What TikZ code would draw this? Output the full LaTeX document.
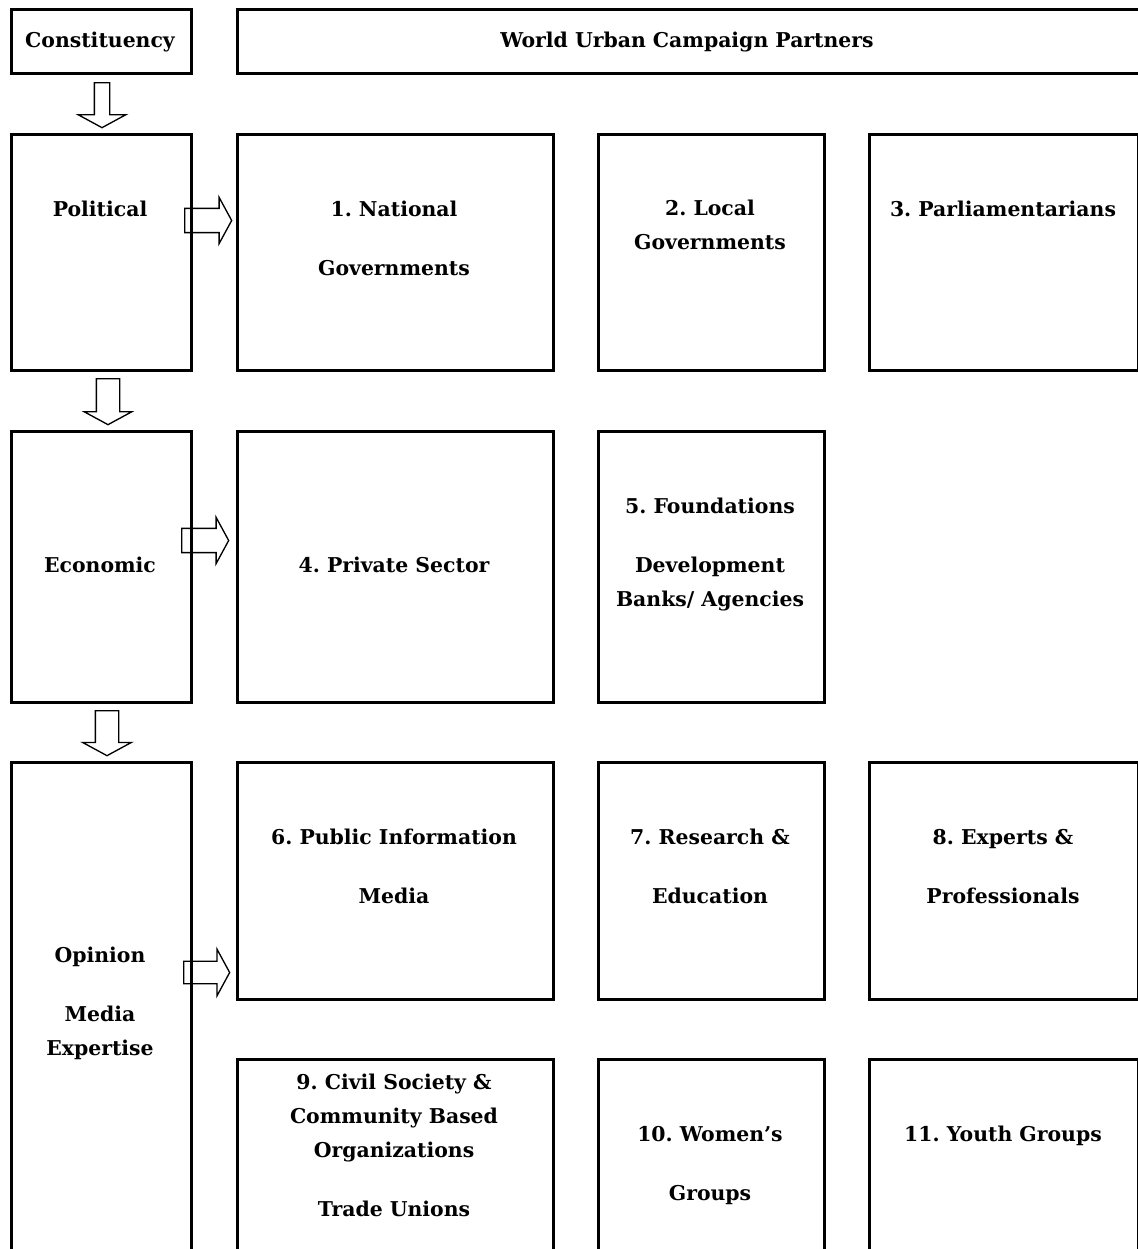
\documentclass[tikz,border=0pt]{standalone}
\usepackage{fontspec}
\setmainfont{DejaVu Serif}
\usetikzlibrary{shapes.arrows}
\frenchspacing

\tikzset{
  box/.style={draw, line width=2pt, rectangle, anchor=north west, inner sep=0pt},
  lbl/.style={anchor=base, inner sep=0.75pt, align=center, font=\bfseries\fontsize{15.3}{25.5}\selectfont},
  blockarr/.style={draw, line width=1pt, single arrow, anchor=tail, inner xsep=0pt, single arrow tip angle=123}
}

\begin{document}
\begin{tikzpicture}[x=0.75pt,y=0.75pt,yscale=-1,xscale=1]
    \clip (0,0) rectangle (1138,1249);
    
    %Shape: Rectangle
    \draw (10,8) node (cons) [box, minimum width=135pt, minimum height=48pt] {};
    %Shape: Rectangle
    \draw (236,8) node (partners) [box, minimum width=677.25pt, minimum height=48pt] {};
    %Shape: Rectangle
    \draw (10,133) node (political) [box, minimum width=135pt, minimum height=177pt] {};
    %Shape: Rectangle
    \draw (236,133) node (natgov) [box, minimum width=237pt, minimum height=177pt] {};
    %Shape: Rectangle
    \draw (597,133) node (locgov) [box, minimum width=169.5pt, minimum height=177pt] {};
    %Shape: Rectangle
    \draw (868,133) node (parl) [box, minimum width=201.75pt, minimum height=177pt] {};
    %Shape: Rectangle
    \draw (10,430) node (economic) [box, minimum width=135pt, minimum height=203.25pt] {};
    %Shape: Rectangle
    \draw (236,430) node (private) [box, minimum width=237pt, minimum height=203.25pt] {};
    %Shape: Rectangle
    \draw (597,430) node (found) [box, minimum width=169.5pt, minimum height=203.25pt] {};
    %Shape: Rectangle
    \draw (10,761) node (opinion) [box, minimum width=135pt, minimum height=450pt] {};
    %Shape: Rectangle
    \draw (236,761) node (pubinfo) [box, minimum width=237pt, minimum height=177.75pt] {};
    %Shape: Rectangle
    \draw (597,761) node (research) [box, minimum width=169.5pt, minimum height=177.75pt] {};
    %Shape: Rectangle
    \draw (868,761) node (experts) [box, minimum width=201.75pt, minimum height=177.75pt] {};
    %Shape: Rectangle
    \draw (236,1058) node (civil) [box, minimum width=237pt, minimum height=187.5pt] {};
    %Shape: Rectangle
    \draw (597,1058) node (women) [box, minimum width=169.5pt, minimum height=187.5pt] {};
    %Shape: Rectangle
    \draw (868,1058) node (youth) [box, minimum width=201.75pt, minimum height=187.5pt] {};
    
    %Down Arrow
    \draw (102,82) node (arrConsPol) [blockarr, rotate=-90, inner ysep=5.25pt, minimum height=33.75pt, minimum width=34.5pt, single arrow head extend=12pt] {};
    %Down Arrow
    \draw (108,378) node (arrPolEco) [blockarr, rotate=-90, inner ysep=8.25pt, minimum height=34.5pt, minimum width=34.5pt, single arrow head extend=9pt] {};
    %Down Arrow
    \draw (107,710) node (arrEcoOpi) [blockarr, rotate=-90, inner ysep=8.25pt, minimum height=33.75pt, minimum width=35.25pt, single arrow head extend=9.5pt] {};
    %Right Arrow
    \draw (184,220.5) node (arrPol) [blockarr, inner ysep=8.6pt, minimum height=35.25pt, minimum width=33.75pt, single arrow head extend=8.25pt] {};
    %Right Arrow
    \draw (181,540.5) node (arrEco) [blockarr, inner ysep=8.6pt, minimum height=35.25pt, minimum width=33.75pt, single arrow head extend=8.25pt] {};
    %Right Arrow
    \draw (183,972.5) node (arrOpi) [blockarr, inner ysep=7.9pt, minimum height=34.5pt, minimum width=33.75pt, single arrow head extend=9pt] {};
    
    % Text Node
    \draw (100,47) node (txtCons) [lbl] {Constituency};
    % Text Node
    \draw (687,47) node (txtPartners) [lbl] {World Urban Campaign Partners};
    % Text Node
    \draw (100,216) node (txtPolitical) [lbl] {Political};
    % Text Node
    \draw (394,275) node (txtNatgov) [lbl] {1. National\\[18.75pt]Governments};
    % Text Node
    \draw (710,249) node (txtLocgov) [lbl] {2. Local\\Governments};
    % Text Node
    \draw (1003,216) node (txtParl) [lbl] {3. Parliamentarians};
    % Text Node
    \draw (100,572) node (txtEconomic) [lbl] {Economic};
    % Text Node
    \draw (394,572) node (txtPrivate) [lbl] {4. Private Sector};
    % Text Node
    \draw (710,606) node (txtFound) [lbl] {5. Foundations\\[18.75pt]Development\\Banks/ Agencies};
    % Text Node
    \draw (100,1055) node (txtOpinion) [lbl] {Opinion\\[18.75pt]Media\\Expertise};
    % Text Node
    \draw (394,903) node (txtPubinfo) [lbl] {6. Public Information\\[18.75pt]Media};
    % Text Node
    \draw (710,903) node (txtResearch) [lbl] {7. Research \&\\[18.75pt]Education};
    % Text Node
    \draw (1003,903) node (txtExperts) [lbl] {8. Experts \&\\[18.75pt]Professionals};
    % Text Node
    \draw (394,1216) node (txtCivil) [lbl] {9. Civil Society \&\\Community Based\\Organizations\\[18.75pt]Trade Unions};
    % Text Node
    \draw (710,1200) node (txtWomen) [lbl] {10. Women’s\\[18.75pt]Groups};
    % Text Node
    \draw (1003,1141) node (txtYouth) [lbl] {11. Youth Groups};
\end{tikzpicture}
\end{document}
